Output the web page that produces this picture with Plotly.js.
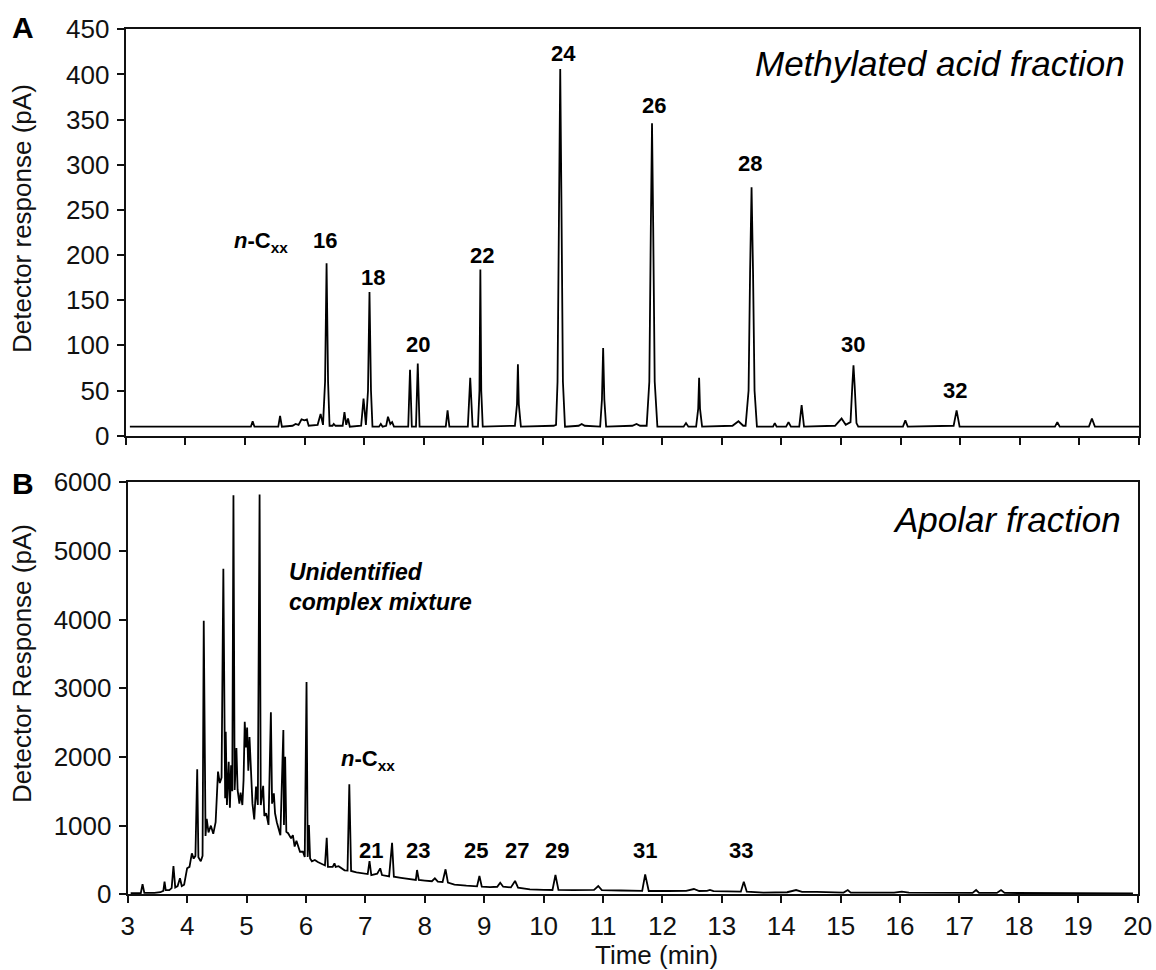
<!DOCTYPE html>
<html>
<head>
<meta charset="utf-8">
<script src="https://cdn.plot.ly/plotly-3.0.1.min.js"></script>
<style>html,body{margin:0;padding:0;background:#fff;}#chart{width:1156px;height:970px;}</style>
</head>
<body>
<div id="chart"></div>
<script>
// ---- Panel A: methylated acid fraction (time in min, response in pA) ----
var acidTime = [3.07,
  5.10,5.13,5.16, 5.56,5.59,5.62,
  5.80,5.85,5.90,5.95,6.00,6.04,6.07,
  6.22,6.27,6.31,6.345,6.37,6.395,6.42, 6.47,6.49,6.52,
  6.64,6.67,6.70,6.73,6.76,
  6.95,6.99,7.03,7.065,7.09,7.115,7.14, 7.25,7.28,7.31,
  7.37,7.40,7.44,7.47,7.50,
  7.74,7.77,7.80,7.87,7.90,7.93,
  8.37,8.40,8.43, 8.74,8.78,8.82,8.91,8.935,8.95,8.965,8.99,
  9.53,9.565,9.58,9.595,9.63, 10.18,10.22,10.245,10.27,10.29,10.31,10.335,10.37,
  10.60,10.65,10.70, 10.96,10.99,11.01,11.03,11.06,
  11.50,11.57,11.63, 11.74,11.785,11.81,11.83,11.85,11.875,11.92,
  12.36,12.40,12.44, 12.57,12.605,12.62,12.635,12.67,
  13.18,13.28,13.36,13.40,13.45,13.475,13.50,13.525,13.55,13.59,
  13.86,13.89,13.92, 14.08,14.12,14.16, 14.30,14.34,14.38,
  14.90,15.01,15.08,15.16,15.19,15.21,15.23,15.26,15.29,
  16.04,16.08,16.12, 16.89,16.94,16.99,
  18.59,18.63,18.67, 19.16,19.21,19.26, 20.0];
var acidResp = [10,
  10,16,10, 10,22,10,
  11,13,12,18,17,18,11,
  12,24,12,60,191,60,11, 11,13,11,
  11,26,12,19,10,
  11,41,12,50,159,50,10, 10,13,10,
  11,21,13,15,10,
  10,73,10,10,80,10,
  10,28,10, 10,64,10,10,50,184,50,10,
  11,35,79,35,10, 11,12,60,260,406,260,60,10,
  11,13,11, 10,40,97,40,10,
  11,13,11, 11,60,230,346,230,60,10,
  10,14,10, 10,30,64,30,10,
  11,16,11,11,50,180,275,180,50,10,
  10,14,10, 10,15,10, 10,34,10,
  11,19,12,15,55,78,55,14,10,
  10,17,10, 11,28,10,
  10,15,10, 10,19,10, 10];
var acidLabels = ["16","18","20","22","24","26","28","30","32"];
var acidLabelTime = [6.34,7.15,7.91,8.97,10.34,11.86,13.48,15.20,16.92];
var acidLabelResp = [216,175,101,199,423,366,301,101,50];

// ---- Panel B: apolar fraction ----
var apolarTime = [3.05,3.22,3.25,3.28,3.45,3.55,3.60,3.62,3.64,3.70,3.74,3.77,3.80,3.84,3.88,3.91,3.95,
  4.00,4.04,4.08,4.11,4.14,4.17,4.19,4.23,4.26,4.28,4.31,4.33,4.36,4.40,4.44,4.48,4.52,4.55,4.58,
  4.61,4.64,4.65,4.67,4.70,4.72,4.74,4.76,4.78,4.80,4.83,4.85,4.88,4.90,4.93,4.95,4.97,4.99,
  5.01,5.03,5.05,5.07,5.10,5.13,5.16,5.19,5.22,5.24,5.28,5.30,5.33,5.35,5.37,5.41,5.43,5.46,5.48,
  5.51,5.54,5.57,5.62,5.63,5.65,5.67,5.70,5.75,5.78,5.81,5.84,5.90,5.95,5.98,
  6.01,6.03,6.05,6.07,6.10,6.15,6.20,6.27,6.32,6.35,6.37,6.45,6.48,6.50,6.55,6.65,6.70,6.73,6.76,
  6.85,6.95,7.04,7.07,7.10,7.20,7.25,7.28,7.40,7.45,7.48,7.60,7.80,7.85,7.87,7.90,
  8.00,8.12,8.17,8.22,8.30,8.35,8.39,8.50,8.70,8.88,8.92,8.96,
  9.10,9.22,9.27,9.32,9.45,9.52,9.57,9.77,10.00,10.15,10.20,10.25,10.50,10.85,10.92,10.98,
  11.30,11.60,11.66,11.71,11.77,12.10,12.40,12.53,12.62,12.75,12.80,12.86,
  13.20,13.32,13.37,13.42,13.70,14.10,14.25,14.35,14.60,14.90,15.05,15.12,15.17,
  15.90,16.03,16.15,17.00,17.22,17.28,17.33,17.63,17.70,17.76,18.50,19.50,19.92];
var apolarResp = [15,15,146,20,20,30,50,184,60,60,90,412,100,120,233,120,140,
  378,400,597,520,560,1820,540,480,560,3984,850,1100,900,1000,880,1050,1786,1620,1700,
  4741,1400,2368,1300,1930,1260,1880,1500,5810,1518,2130,1520,1320,1480,1300,1660,2513,2138,
  2430,1800,2290,1800,1320,1090,1570,1300,5823,1300,1580,1140,1180,1100,1010,2650,1320,1470,1180,
  1050,960,860,2392,1010,2003,910,890,815,862,695,780,620,620,545,
  3091,545,1009,520,480,500,470,440,420,824,400,400,451,400,410,350,345,1601,340,
  320,310,295,485,280,300,378,280,260,751,256,240,215,210,354,208,
  200,190,233,184,180,364,170,140,125,115,266,111,
  105,110,169,110,100,194,96,73,65,63,281,63,60,65,121,60,
  55,50,50,291,48,48,50,77,48,50,63,45,
  38,38,183,38,25,30,62,35,35,25,25,62,25,
  25,40,25,20,20,62,20,20,62,20,15,15,12];
var apolarLabels = ["21","23","25","27","29","31","33"];
var apolarLabelTime = [7.10,7.89,8.86,9.56,10.23,11.71,13.33];
var apolarLabelResp = [645,645,645,645,645,645,645];

var W = 1156, H = 970;
function px(x){return x/W;}
function py(y){return 1 - y/H;}
var FONT = "Arial, 'Liberation Sans', sans-serif";

var traces = [
  {x: acidTime, y: acidResp, xaxis:'x', yaxis:'y', mode:'lines', line:{color:'#000', width:1.8}, hoverinfo:'skip'},
  {x: apolarTime, y: apolarResp, xaxis:'x2', yaxis:'y2', mode:'lines', line:{color:'#000', width:1.8}, hoverinfo:'skip'}
];

var ann = [];
for (var i=0;i<acidLabels.length;i++){
  ann.push({x:acidLabelTime[i], y:acidLabelResp[i], xref:'x', yref:'y', text:'<b>'+acidLabels[i]+'</b>', showarrow:false, font:{family:FONT,size:22,color:'#000'}, xanchor:'center', yanchor:'middle'});
}
for (var j=0;j<apolarLabels.length;j++){
  ann.push({x:apolarLabelTime[j], y:apolarLabelResp[j], xref:'x2', yref:'y2', text:'<b>'+apolarLabels[j]+'</b>', showarrow:false, font:{family:FONT,size:22,color:'#000'}, xanchor:'center', yanchor:'middle'});
}
ann.push({x:4.79, y:214, xref:'x', yref:'y', text:'<b><i>n</i>-C<sub>xx</sub></b>', showarrow:false, font:{family:FONT,size:22,color:'#000'}, xanchor:'left', yanchor:'middle'});
ann.push({x:6.56, y:1960, xref:'x2', yref:'y2', text:'<b><i>n</i>-C<sub>xx</sub></b>', showarrow:false, font:{family:FONT,size:22,color:'#000'}, xanchor:'left', yanchor:'middle'});
ann.push({x:5.68, y:4470, xref:'x2', yref:'y2', text:'<b><i>Unidentified<br>complex mixture</i></b>', showarrow:false, align:'left', font:{family:FONT,size:23,color:'#000'}, xanchor:'left', yanchor:'middle'});
ann.push({x:px(1127), y:py(64), xref:'paper', yref:'paper', text:'<i>Methylated acid fraction</i>', showarrow:false, font:{family:FONT,size:35,color:'#000'}, xanchor:'right', yanchor:'middle'});
ann.push({x:px(1123), y:py(519), xref:'paper', yref:'paper', text:'<i>Apolar fraction</i>', showarrow:false, font:{family:FONT,size:35,color:'#000'}, xanchor:'right', yanchor:'middle'});
ann.push({x:px(22.5), y:py(27), xref:'paper', yref:'paper', text:'<b>A</b>', showarrow:false, font:{family:FONT,size:30,color:'#000'}, xanchor:'center', yanchor:'middle'});
ann.push({x:px(22.5), y:py(483), xref:'paper', yref:'paper', text:'<b>B</b>', showarrow:false, font:{family:FONT,size:30,color:'#000'}, xanchor:'center', yanchor:'middle'});
ann.push({x:px(22), y:py(219), xref:'paper', yref:'paper', text:'Detector response (pA)', textangle:-90, showarrow:false, font:{family:FONT,size:26,color:'#111'}, xanchor:'center', yanchor:'middle'});
ann.push({x:px(22), y:py(664), xref:'paper', yref:'paper', text:'Detector Response (pA)', textangle:-90, showarrow:false, font:{family:FONT,size:26,color:'#111'}, xanchor:'center', yanchor:'middle'});
ann.push({x:px(656), y:py(955), xref:'paper', yref:'paper', text:'Time (min)', showarrow:false, font:{family:FONT,size:26,color:'#111'}, xanchor:'center', yanchor:'middle'});

var axCommon = {showline:true, mirror:true, linecolor:'#111', linewidth:2, ticks:'outside', ticklen:7, tickwidth:2, tickcolor:'#111', showgrid:false, zeroline:false, tickfont:{family:FONT,size:26,color:'#111'}, fixedrange:true};
function ax(extra){var o={}; for(var k in axCommon){o[k]=axCommon[k];} for(var k2 in extra){o[k2]=extra[k2];} return o;}

var layout = {
  width: W, height: H,
  margin:{l:0,r:0,t:0,b:0},
  paper_bgcolor:'#fff', plot_bgcolor:'#fff',
  showlegend:false,
  xaxis: ax({domain:[px(125.7), px(1139)], range:[3,20], dtick:1, tick0:3, showticklabels:false, anchor:'y'}),
  yaxis: ax({domain:[py(435.7), py(29.3)], range:[0,450], dtick:50, tick0:0, anchor:'x', ticklabelstandoff:2}),
  xaxis2: ax({domain:[px(127.7), px(1137.7)], range:[3,20], dtick:1, tick0:3, anchor:'y2'}),
  yaxis2: ax({domain:[py(894.3), py(482.3)], range:[0,6000], dtick:1000, tick0:0, anchor:'x2', ticklabelstandoff:2}),
  annotations: ann
};

Plotly.newPlot('chart', traces, layout, {staticPlot:true, displayModeBar:false});
</script>
</body>
</html>
